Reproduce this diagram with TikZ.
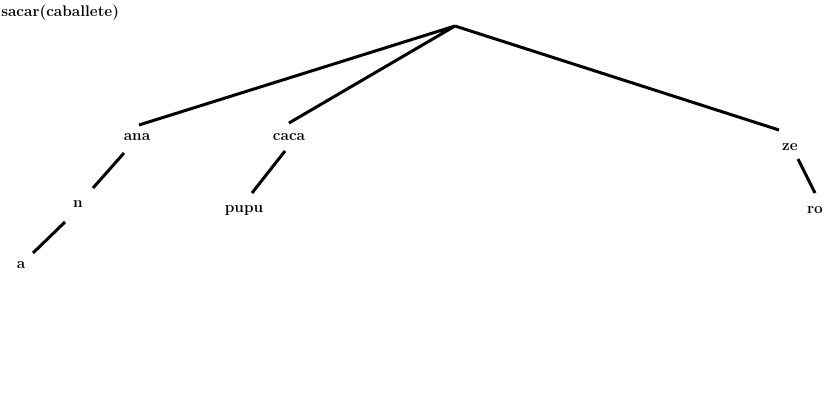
\documentclass[tikz,border=0pt]{standalone}
\usetikzlibrary{calc}
\begin{document}
\begin{tikzpicture}[x=0.75pt,y=-0.75pt,
  lbl/.style={inner sep=0pt,anchor=base,font=\fontsize{11.5}{13}\selectfont\bfseries},
  edge/.style={line width=2.25pt,line join=bevel}]
\useasboundingbox (0,0) rectangle (832,410);
\node[lbl,anchor=base west] (title) at (1,17) {sacar(caballete)};
\coordinate (root) at (455,26);
\node[lbl] (ana)  at (137,141) {ana};
\node[lbl] (caca) at (289,141) {caca};
\node[lbl] (ze)   at (790,151) {ze};
\node[lbl] (n)    at (78,207) {n};
\node[lbl] (pupu) at (244,212) {pupu};
\node[lbl] (a)    at (21,268) {a};
\node[lbl] (ro)   at (815,213) {ro};
\draw[edge] ($(ana.base)+(2,-16)$) -- (root) -- ($(caca.base)+(0,-18)$);
\draw[edge] (root) -- ($(ze.base)+(-11,-21)$);
\draw[edge] ($(ana.base)+(-13,12)$) -- ($(n.base)+(15,-19)$);
\draw[edge] ($(n.base)+(-13,15)$) -- ($(a.base)+(12,-15)$);
\draw[edge] ($(caca.base)+(-4,10)$) -- ($(pupu.base)+(8,-19)$);
\draw[edge] ($(ze.base)+(8,8)$) -- ($(ro.base)+(0,-20)$);
\end{tikzpicture}
\end{document}
